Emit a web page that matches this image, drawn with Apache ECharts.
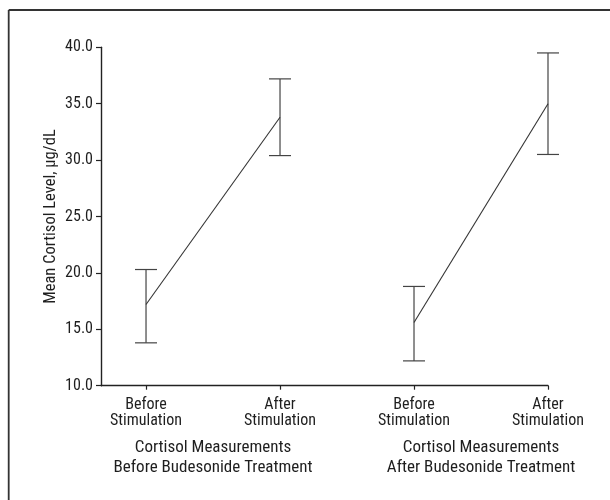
<!DOCTYPE html>
<html>
<head>
<meta charset="utf-8">
<script src="https://cdn.jsdelivr.net/npm/echarts@6/dist/echarts.min.js"></script>
<style>
  html, body { margin: 0; padding: 0; background: #fff; }
  #chart { width: 610px; height: 500px; }
</style>
</head>
<body>
<div id="chart"></div>
<script>
// ---- Data ----
const xPositions = [0, 1, 2, 3];
const xLabels = ['Before\nStimulation', 'After\nStimulation', 'Before\nStimulation', 'After\nStimulation'];
const groupPositions = [0.5, 2.5];
const groupLabels = ['Cortisol Measurements\nBefore Budesonide Treatment', 'Cortisol Measurements\nAfter Budesonide Treatment'];
const means = [17.2, 33.8, 15.6, 35.0];
const upper = [20.3, 37.2, 18.8, 39.5];
const lower = [13.8, 30.4, 12.2, 30.5];

const FONT = '"Roboto Condensed", "Liberation Sans", sans-serif';
const TXT = '#1e1e1e';

const chart = echarts.init(document.getElementById('chart'), null, { renderer: 'canvas' });

const lineSeries = [0, 1].map(g => ({
  type: 'line',
  xAxisIndex: 0,
  yAxisIndex: 0,
  data: [[xPositions[2 * g], means[2 * g]], [xPositions[2 * g + 1], means[2 * g + 1]]],
  symbol: 'none',
  lineStyle: { color: '#333', width: 1.1 },
  silent: true,
  animation: false
}));

const errData = xPositions.map((x, i) => [x, lower[i], upper[i]]);

const option = {
  backgroundColor: '#fff',
  animation: false,
  grid: { left: 101, right: 62, top: 47.3, bottom: 114.3 },
  xAxis: [
    {
      type: 'value',
      min: -0.336,
      max: 3,
      splitLine: { show: false },
      axisLine: { show: true, onZero: false, lineStyle: { color: '#222', width: 1.4 } },
      axisTick: { show: true, customValues: xPositions, length: 4, lineStyle: { color: '#222', width: 1.2 } },
      axisLabel: {
        customValues: xPositions,
        formatter: v => xLabels[Math.round(v)],
        fontFamily: FONT, fontSize: 16, color: TXT, lineHeight: 16.5, margin: 11
      }
    },
    {
      type: 'value',
      position: 'bottom',
      min: -0.336,
      max: 3,
      splitLine: { show: false },
      axisLine: { show: false, onZero: false },
      axisTick: { show: false },
      axisLabel: {
        customValues: groupPositions,
        formatter: v => groupLabels[v < 1.5 ? 0 : 1],
        fontFamily: FONT, fontSize: 17, color: TXT, lineHeight: 20, margin: 52
      }
    }
  ],
  yAxis: {
    type: 'value',
    min: 10,
    max: 40,
    interval: 5,
    name: 'Mean Cortisol Level, μg/dL',
    nameLocation: 'middle',
    nameGap: 42,
    nameMoveOverlap: false,
    nameTextStyle: { fontFamily: FONT, fontSize: 16.5, color: TXT },
    splitLine: { show: false },
    axisLine: { show: true, onZero: false, lineStyle: { color: '#222', width: 1.4 } },
    axisTick: { show: true, length: 5, lineStyle: { color: '#222', width: 1.2 } },
    axisLabel: {
      formatter: v => v.toFixed(1),
      fontFamily: FONT, fontSize: 16, color: TXT, margin: 8
    }
  },
  graphic: [
    { type: 'line', shape: { x1: 8.7, y1: 10, x2: 610, y2: 10 }, style: { stroke: '#333', lineWidth: 1.8 } },
    { type: 'line', shape: { x1: 8.7, y1: 10, x2: 8.7, y2: 500 }, style: { stroke: '#333', lineWidth: 1.8 } }
  ],
  series: [
    ...lineSeries,
    {
      type: 'custom',
      xAxisIndex: 0,
      yAxisIndex: 0,
      silent: true,
      data: errData,
      renderItem: function (params, api) {
        const x = api.value(0);
        const lo = api.coord([x, api.value(1)]);
        const hi = api.coord([x, api.value(2)]);
        const hw = 11;
        const st = { stroke: '#444', lineWidth: 1.2 };
        return {
          type: 'group',
          children: [
            { type: 'line', shape: { x1: lo[0], y1: lo[1], x2: hi[0], y2: hi[1] }, style: st },
            { type: 'line', shape: { x1: hi[0] - hw, y1: hi[1], x2: hi[0] + hw, y2: hi[1] }, style: st },
            { type: 'line', shape: { x1: lo[0] - hw, y1: lo[1], x2: lo[0] + hw, y2: lo[1] }, style: st }
          ]
        };
      }
    }
  ]
};

chart.setOption(option);
</script>
</body>
</html>
